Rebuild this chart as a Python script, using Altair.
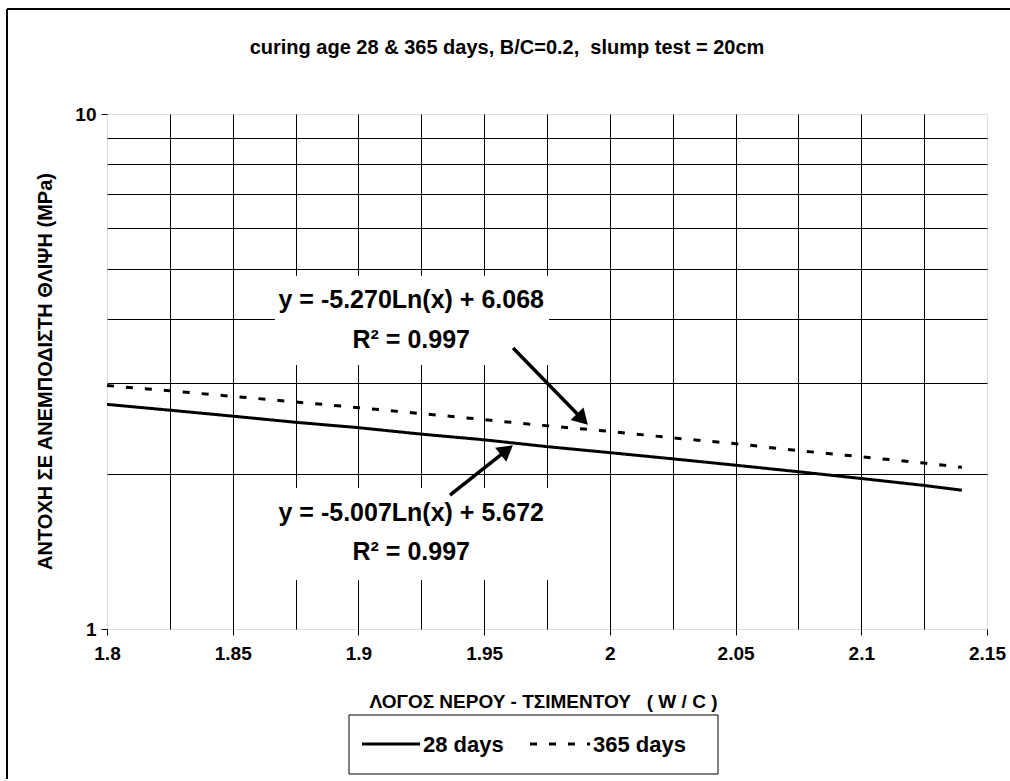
import altair as alt
import pandas as pd

# ---- data ----
wc = [1.8, 1.825, 1.85, 1.875, 1.9, 1.925, 1.95, 1.975, 2.0, 2.025, 2.05, 2.075, 2.1, 2.125, 2.14]
days28 = [2.73, 2.66, 2.59, 2.52, 2.46, 2.39, 2.33, 2.26, 2.20, 2.14, 2.08, 2.02, 1.96, 1.90, 1.86]
days365 = [2.97, 2.90, 2.83, 2.76, 2.69, 2.62, 2.55, 2.48, 2.42, 2.35, 2.29, 2.22, 2.16, 2.10, 2.06]
series_names = ["28 days", "365 days"]

x_ticks = [1.8, 1.825, 1.85, 1.875, 1.9, 1.925, 1.95, 1.975, 2.0, 2.025, 2.05, 2.075, 2.1, 2.125, 2.15]
y_ticks = [1, 2, 3, 4, 5, 6, 7, 8, 9, 10]

# annotations (data units)
eq_text = ["y = -5.270Ln(x) + 6.068", "R² = 0.997", "y = -5.007Ln(x) + 5.672", "R² = 0.997"]
eq_x = [1.921, 1.921, 1.921, 1.921]
eq_y = [4.36, 3.64, 1.68, 1.41]

box_x = [1.8668, 1.8668]
box_x2 = [1.9758, 1.9758]
box_y = [4.85, 1.879]
box_y2 = [3.256, 1.245]

arr_x = [1.9615, 1.9364]
arr_y = [3.512, 1.820]
arr_x2 = [1.9891, 1.9590]
arr_y2 = [2.554, 2.226]
arr_angle = [135.8, 51.5]

FONT = "Liberation Sans"
NB = "\u00a0"

rows = []
for name, vals in zip(series_names, [days28, days365]):
    for xv, yv in zip(wc, vals):
        rows.append({"wc": xv, "val": yv, "series": name})
df = pd.DataFrame(rows)

major = "abs(datum.value*20 - round(datum.value*20)) < 0.001"

xscale = alt.Scale(domain=[1.8, 2.15], nice=False, zero=False)
yscale = alt.Scale(type="log", domain=[1, 10], nice=False)

xaxis = alt.Axis(
    values=x_ticks, format="~g",
    labelExpr=f"{major} ? datum.label : ''",
    labelOverlap=False, labelFlush=False, labelBound=False,
    grid=True, gridColor="black", gridWidth=1,
    gridOpacity={"condition": {"test": "datum.value > 1.801 && datum.value < 2.149", "value": 1}, "value": 0},
    ticks=True, tickColor="black", tickSize=6, tickWidth=1,
    tickOpacity={"condition": {"test": major, "value": 1}, "value": 0},
    domain=False,
    labelFont=FONT, labelFontSize=19, labelFontWeight="bold", labelColor="black", labelPadding=9,
    title=f"ΛΟΓΟΣ ΝΕΡΟΥ - ΤΣΙΜΕΝΤΟΥ{NB}{NB}{NB}( W / C )",
    titleFont=FONT, titleFontSize=19, titleFontWeight="bold", titleColor="black",
    titleX=436, titleY=72, titleBaseline="middle", titleAlign="center",
)

yaxis = alt.Axis(
    values=y_ticks, format="~g",
    labelExpr="datum.value == 1 || datum.value == 10 ? datum.label : ''",
    labelOverlap=False, labelFlush=False, labelBound=False,
    grid=True, gridColor="black", gridWidth=1,
    gridOpacity={"condition": {"test": "datum.value > 1.5 && datum.value < 9.5", "value": 1}, "value": 0},
    ticks=True, tickColor="black", tickSize=6, tickWidth=1,
    tickOpacity={"condition": {"test": "datum.value == 1 || datum.value == 10", "value": 1}, "value": 0},
    domain=False,
    labelFont=FONT, labelFontSize=19, labelFontWeight="bold", labelColor="black", labelPadding=5,
    title="ΑΝΤΟΧΗ ΣΕ ΑΝΕΜΠΟΔΙΣΤΗ ΘΛΙΨΗ (MPa)",
    titleFont=FONT, titleFontSize=20, titleFontWeight="bold", titleColor="black",
    titleX=-62, titleY=257, titleAngle=270, titleBaseline="middle", titleAlign="center",
)

lines = alt.Chart(df).mark_line(color="black", strokeWidth=3).encode(
    x=alt.X("wc:Q", scale=xscale, axis=xaxis),
    y=alt.Y("val:Q", scale=yscale, axis=yaxis),
    strokeDash=alt.StrokeDash("series:N",
                              scale=alt.Scale(domain=series_names, range=[[1, 0], [7, 12]]),
                              legend=None),
    detail="series:N",
)

boxdf = pd.DataFrame({"x": box_x, "x2": box_x2, "y": box_y, "y2": box_y2})
boxes = alt.Chart(boxdf).mark_rect(fill="white").encode(
    x=alt.X("x:Q", scale=xscale), x2="x2:Q",
    y=alt.Y("y:Q", scale=yscale), y2="y2:Q",
)

eqdf = pd.DataFrame({"t": eq_text, "x": eq_x, "y": eq_y})
eqs = alt.Chart(eqdf).mark_text(font=FONT, fontSize=25, fontWeight="bold", color="black",
                                align="center", baseline="middle").encode(
    x=alt.X("x:Q", scale=xscale), y=alt.Y("y:Q", scale=yscale), text="t:N")

arrdf = pd.DataFrame({"x": arr_x, "y": arr_y, "x2": arr_x2, "y2": arr_y2, "a": arr_angle})
arrow_lines = alt.Chart(arrdf).mark_rule(color="black", strokeWidth=3.5).encode(
    x=alt.X("x:Q", scale=xscale), y=alt.Y("y:Q", scale=yscale), x2="x2:Q", y2="y2:Q")
arrow_heads = alt.Chart(arrdf).mark_point(shape="triangle-up", filled=True, color="black",
                                          size=320, opacity=1).encode(
    x=alt.X("x2:Q", scale=xscale), y=alt.Y("y2:Q", scale=yscale),
    angle=alt.Angle("a:Q", scale=None))

# title, legend and outer frame (pixel positions relative to plot area)
one = pd.DataFrame({"k": [0]})
title = alt.Chart(one).mark_text(font=FONT, fontSize=20, fontWeight="bold", color="black",
                                 align="center", baseline="middle",
                                 text="curing age 28 & 365 days, B/C=0.2,  slump test = 20cm".replace("  ", " " + NB)).encode(
    x=alt.value(400), y=alt.value(-66))
leg_box = alt.Chart(one).mark_rect(fill="white", stroke="black", strokeWidth=1).encode(
    x=alt.value(242), x2=alt.value(611), y=alt.value(601), y2=alt.value(660))
leg_solid = alt.Chart(one).mark_rule(color="black", strokeWidth=3).encode(
    x=alt.value(255), x2=alt.value(313), y=alt.value(630), y2=alt.value(630))
leg_dash = alt.Chart(one).mark_rule(color="black", strokeWidth=3, strokeDash=[7, 12]).encode(
    x=alt.value(423), x2=alt.value(483), y=alt.value(630), y2=alt.value(630))
leg_t1 = alt.Chart(one).mark_text(font=FONT, fontSize=22, fontWeight="bold", color="black",
                                  align="left", baseline="middle", text=series_names[0]).encode(
    x=alt.value(316), y=alt.value(631))
leg_t2 = alt.Chart(one).mark_text(font=FONT, fontSize=22, fontWeight="bold", color="black",
                                  align="left", baseline="middle", text=series_names[1]).encode(
    x=alt.value(486), y=alt.value(631))

frame_top = alt.Chart(one).mark_rule(color="black", strokeWidth=2).encode(
    x=alt.value(-100), x2=alt.value(903), y=alt.value(-105), y2=alt.value(-105))
frame_left = alt.Chart(one).mark_rule(color="black", strokeWidth=2).encode(
    x=alt.value(-100), x2=alt.value(-100), y=alt.value(-105), y2=alt.value(667))

chart = alt.layer(
    lines, boxes, eqs, arrow_lines, arrow_heads,
    title, leg_box, leg_solid, leg_dash, leg_t1, leg_t2, frame_top, frame_left,
).properties(
    width=880, height=515,
    autosize=alt.AutoSizeParams(type="none"),
    padding={"left": 107, "top": 114, "right": 23, "bottom": 150},
).configure_view(
    stroke="#808080", strokeWidth=2
).configure(background="white")

chart.save("out.html", embed_options={"renderer": "svg", "actions": False})
